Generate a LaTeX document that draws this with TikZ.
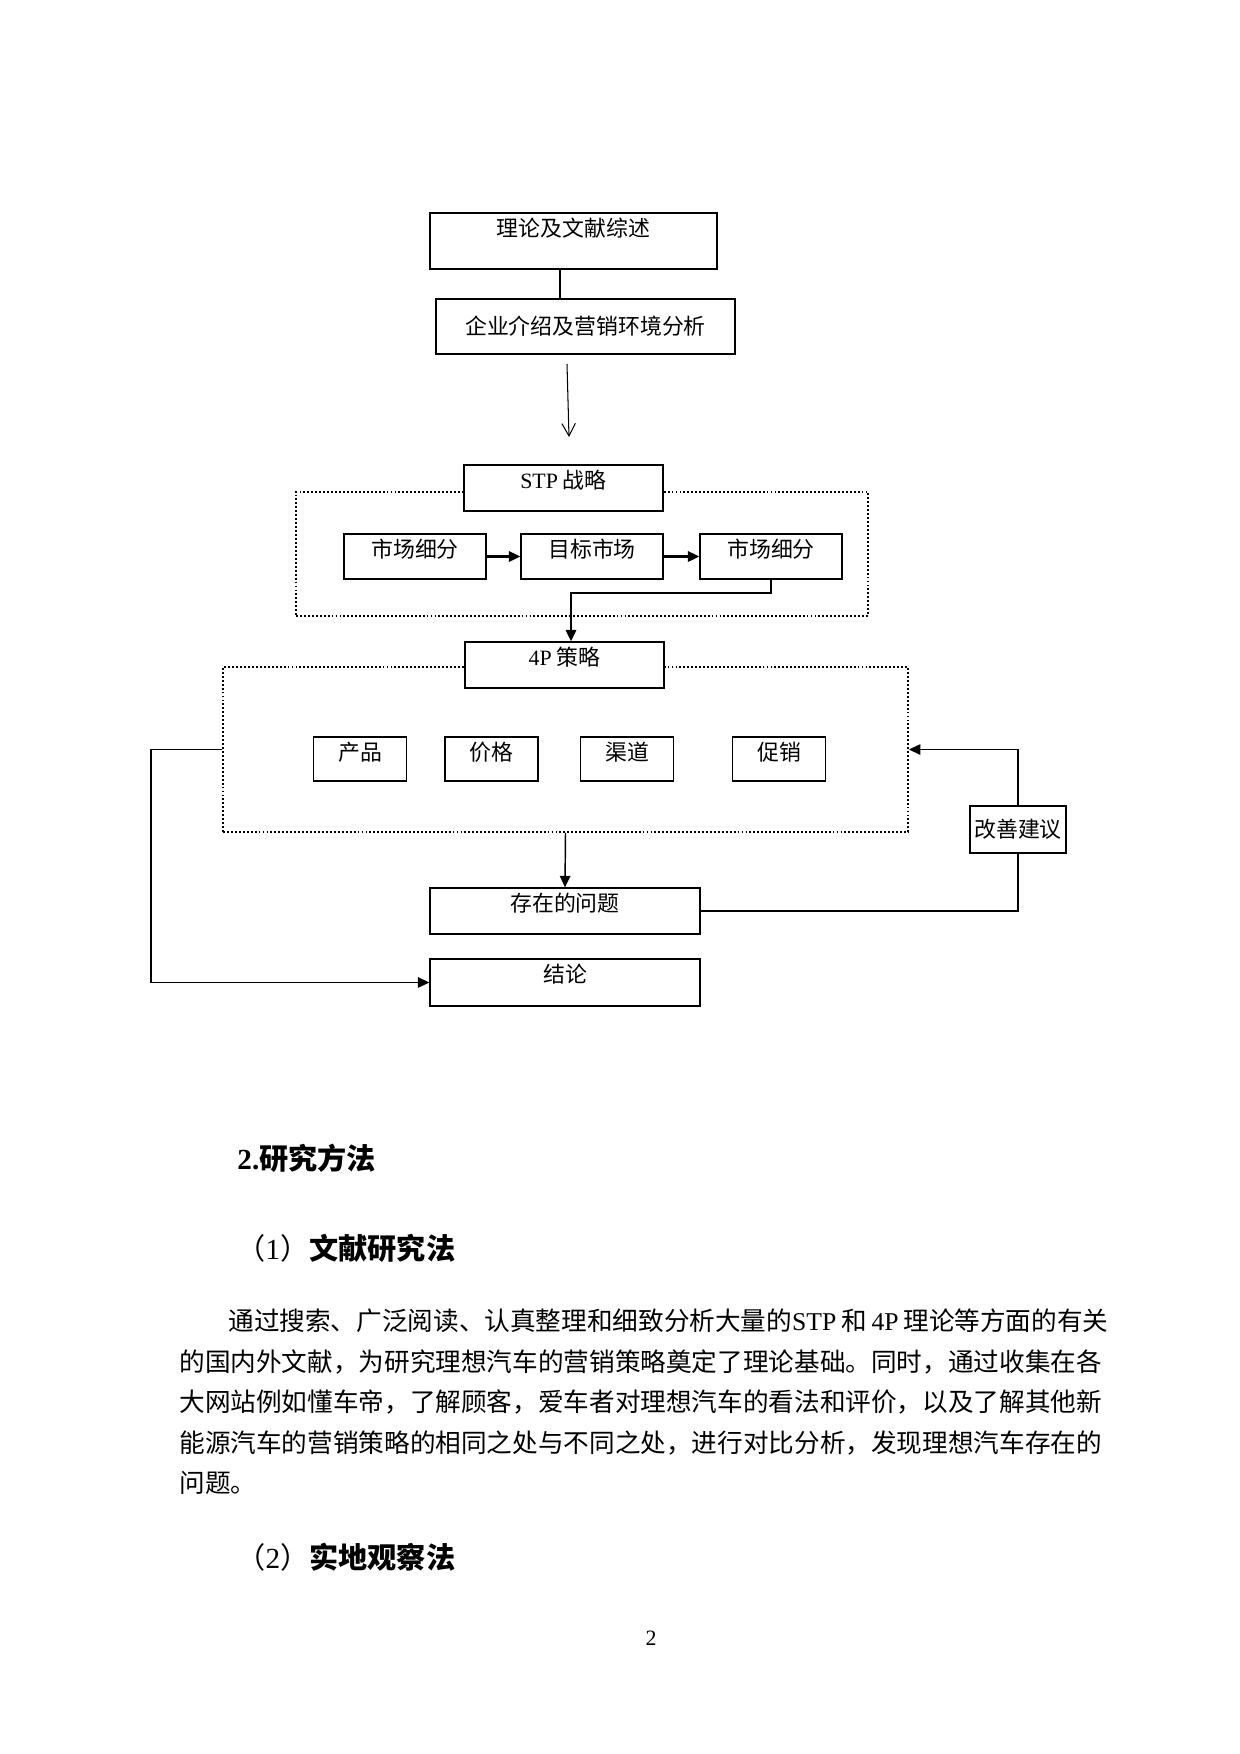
\documentclass[tikz,border=0pt]{standalone}
\usepackage{fontspec}
\setmainfont{Liberation Serif}
\newfontfamily\cjk{Noto Sans CJK SC}
\usetikzlibrary{arrows.meta}
\XeTeXlinebreaklocale "zh"
\XeTeXlinebreakskip=0pt plus 2pt

\begin{document}
\begin{tikzpicture}[x=0.48pt,y=-0.48pt,
    box/.style={draw,line width=0.6pt,fill=white,inner xsep=1pt,inner ysep=0pt,
      font=\cjk\fontsize{10.5pt}{12pt}\selectfont},
    topbox/.style={box,text height=11.2pt,text depth=#1},
    frame/.style={draw,densely dotted,line width=0.9pt,inner sep=0pt},
    fat/.style={line width=1pt,-{Triangle[length=5.5pt,width=5pt]}},
    arr/.style={line width=0.7pt,-{Triangle[length=5.5pt,width=5pt]}},
    thin/.style={line width=0.5pt},
    bodyline/.style={anchor=west,inner sep=0pt,font=\cjk\fontsize{12.3pt}{14pt}\selectfont},
    headline/.style={anchor=west,inner sep=0pt,font=\fontsize{14pt}{16pt}\selectfont\bfseries}]
    \useasboundingbox [fill=white] (0,0) rectangle (1240,1754);

    \node [topbox=15.7pt,minimum width=137.8pt] (lit) at (573.5,241) {理论及文献综述};
    \node [box,line width=1.2pt,minimum width=143.5pt,minimum height=26.4pt] (firm) at (585.5,326.5) {企业介绍及营销环境分析};
    \coordinate (c1) at (560,0);
    \draw [thin] (lit.south -| c1) -- (firm.north -| c1);
    \coordinate (a1) at (567,364);
    \coordinate (a2) at (569,437);
    \draw [thin,-{Straight Barb[length=6pt,width=6.5pt]}] (a1) -- (a2);

    \node [frame,minimum width=274.6pt,minimum height=59.5pt] (stpframe) at (582,554) {};
    \node [topbox=10.9pt,minimum width=95.5pt] (stp) at (563.5,488) {{\rmfamily STP} 战略};
    \node [topbox=10.4pt,minimum width=68.2pt] (seg) at (415,556.5) {市场细分};
    \node [topbox=10.4pt,minimum width=68.2pt] (tgt) at (592,556.5) {目标市场};
    \node [topbox=10.4pt,minimum width=68.2pt] (pos) at (771,556.5) {市场细分};
    \draw [fat] (seg.east) -- (tgt.west);
    \draw [fat] (tgt.east) -- (pos.west);

    \node [frame,minimum width=328.8pt,minimum height=79.2pt] (pframe) at (565.5,749.5) {};
    \node [topbox=10.9pt,minimum width=95.5pt] (fourp) at (564.5,665) {{\rmfamily 4P} 策略};
    \coordinate (c2) at (571,593);
    \draw [fat] (pos.south) |- (c2) -- (fourp.north -| c2);
    \foreach \n/\x/\t in {prod/360/产品,price/491.5/价格,place/627/渠道,promo/779/促销}
    \node [topbox=9.9pt,minimum width=44.6pt] (\n) at (\x,759) {\t};

    \node [box,minimum width=46.1pt,minimum height=22.6pt] (adv) at (1018,829.5) {改善建议};
    \node [topbox=10.9pt,minimum width=129.6pt] (issue) at (565,911) {存在的问题};
    \node [topbox=11.4pt,minimum width=129.6pt] (concl) at (565,982.5) {结论};
    \draw [arr] (pframe.south) -- (issue.north);
    \draw [line width=0.8pt] (issue.east) -| (adv.south);
    \draw [arr,line width=0.8pt] (adv.north) |- (pframe.east);
    \coordinate (c3) at (151,0);
    \draw [arr,line width=0.8pt] (pframe.west) -- (pframe.west -| c3) |- (concl.west);

    \node [headline] (head) at (237,1158) {2.{\cjk 研究方法}};
    \node [headline] (subone) at (236,1248) {{\mdseries\cjk （}{\mdseries 1}{\mdseries\cjk ）}{\cjk 文献研究法}};
    \node [bodyline] (line1) at (228,1321) {\hbox to 422.4pt{通过搜索、广泛阅读、认真整理和细致分析大量的{\rmfamily STP} 和 {\rmfamily 4P} 理论等方面的有关}};
    \node [bodyline] (line2) at (179,1362) {\hbox to 445pt{的国内外文献，为研究理想汽车的营销策略奠定了理论基础。同时，通过收集在各}};
    \node [bodyline] (line3) at (179,1402) {\hbox to 445pt{大网站例如懂车帝，了解顾客，爱车者对理想汽车的看法和评价，以及了解其他新}};
    \node [bodyline] (line4) at (179,1443) {\hbox to 445pt{能源汽车的营销策略的相同之处与不同之处，进行对比分析，发现理想汽车存在的}};
    \node [bodyline] (line5) at (179,1483) {问题。};
    \node [headline] (subtwo) at (236,1557) {{\mdseries\cjk （}{\mdseries 2}{\mdseries\cjk ）}{\cjk 实地观察法}};
    \node [font=\fontsize{10.5pt}{12pt}\selectfont] (pageno) at (651,1638) {2};
\end{tikzpicture}
\end{document}
